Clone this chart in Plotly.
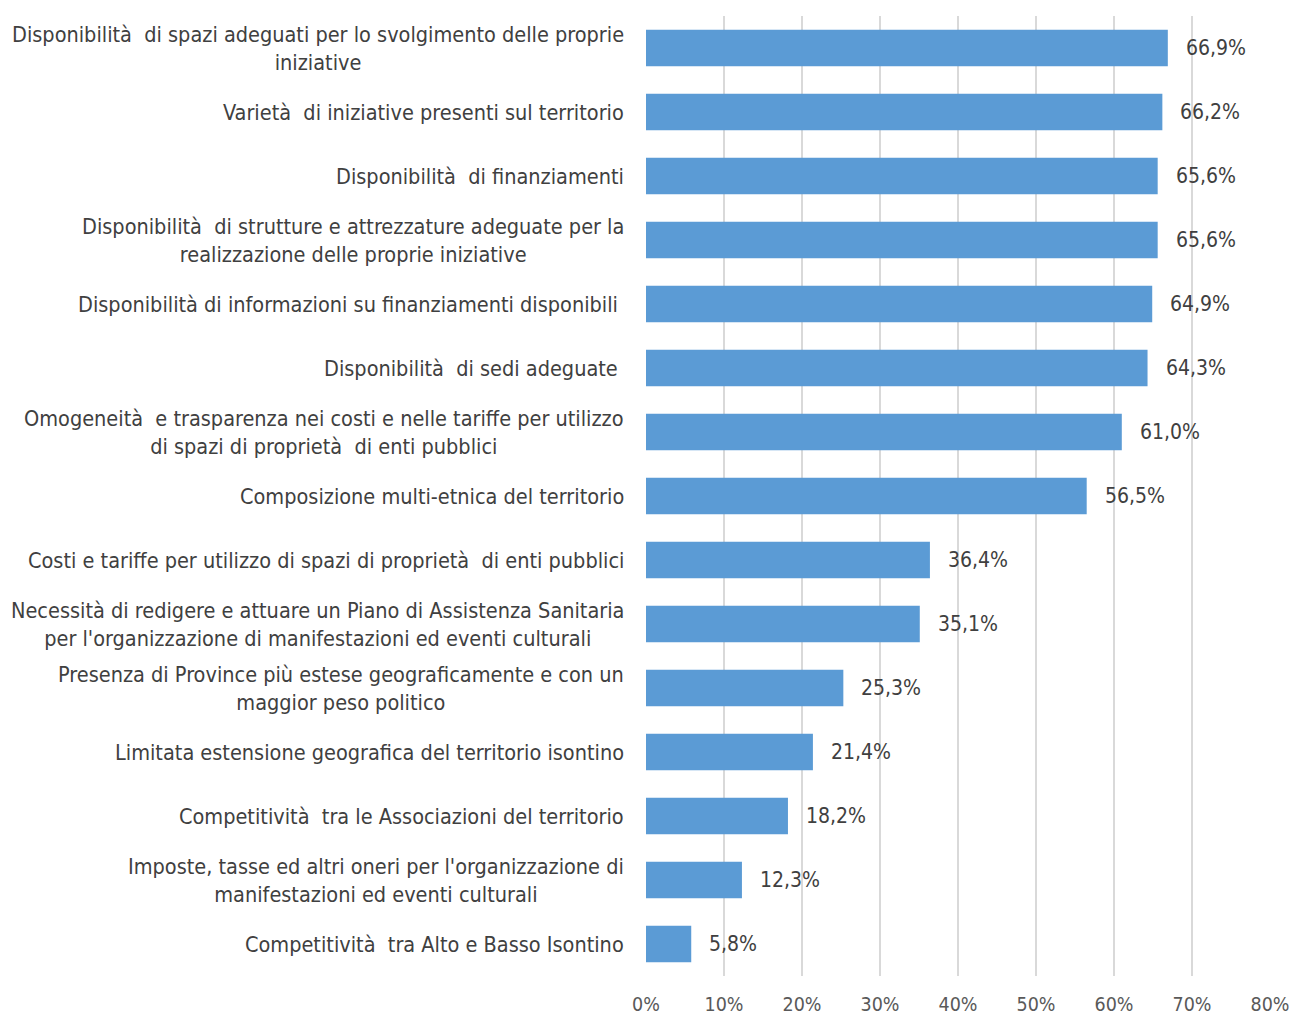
import plotly.graph_objects as go

categories = [
    "Disponibilità  di spazi adeguati per lo svolgimento delle proprie<br>iniziative",
    "Varietà  di iniziative presenti sul territorio",
    "Disponibilità  di finanziamenti",
    "Disponibilità  di strutture e attrezzature adeguate per la<br>realizzazione delle proprie iniziative",
    "Disponibilità di informazioni su finanziamenti disponibili ",
    "Disponibilità  di sedi adeguate ",
    "Omogeneità  e trasparenza nei costi e nelle tariffe per utilizzo<br>di spazi di proprietà  di enti pubblici",
    "Composizione multi-etnica del territorio",
    "Costi e tariffe per utilizzo di spazi di proprietà  di enti pubblici",
    "Necessità di redigere e attuare un Piano di Assistenza Sanitaria<br>per l'organizzazione di manifestazioni ed eventi culturali",
    "Presenza di Province più estese geograficamente e con un<br>maggior peso politico",
    "Limitata estensione geografica del territorio isontino",
    "Competitività  tra le Associazioni del territorio",
    "Imposte, tasse ed altri oneri per l'organizzazione di<br>manifestazioni ed eventi culturali",
    "Competitività  tra Alto e Basso Isontino",
]
values = [0.669, 0.662, 0.656, 0.656, 0.649, 0.643, 0.610, 0.565,
          0.364, 0.351, 0.253, 0.214, 0.182, 0.123, 0.058]
value_labels = ["66,9%", "66,2%", "65,6%", "65,6%", "64,9%", "64,3%", "61,0%", "56,5%",
                "36,4%", "35,1%", "25,3%", "21,4%", "18,2%", "12,3%", "5,8%"]
tick_vals = [0, 0.1, 0.2, 0.3, 0.4, 0.5, 0.6, 0.7, 0.8]
tick_text = ["0%", "10%", "20%", "30%", "40%", "50%", "60%", "70%", "80%"]

FONT = "Liberation Sans Narrow, DejaVu Sans Condensed, Arial Narrow, sans-serif"
ids = list(range(len(categories)))

fig = go.Figure()
fig.add_trace(go.Bar(
    x=values, y=ids, orientation="h",
    marker=dict(color="#5B9BD5", line=dict(width=0)),
    width=0.57,
    hoverinfo="skip",
))

annotations = []
for i, (c, v, t) in enumerate(zip(categories, values, value_labels)):
    annotations.append(dict(
        x=0, y=i, xref="paper", yref="y", text=c, showarrow=False,
        xanchor="right", yanchor="middle", align="center", xshift=-20,
        font=dict(family=FONT, size=21.5, color="#404040"),
    ))
    annotations.append(dict(
        x=v, y=i, xref="x", yref="y", text=t, showarrow=False,
        xanchor="left", yanchor="middle", xshift=16,
        font=dict(family=FONT, size=21, color="#404040"),
    ))

fig.update_layout(
    width=1292, height=1017,
    margin=dict(l=646, r=22, t=16, b=41, autoexpand=False),
    paper_bgcolor="white", plot_bgcolor="white",
    showlegend=False,
    bargap=0.43,
    annotations=annotations,
    xaxis=dict(
        range=[0, 0.8], tickvals=tick_vals, ticktext=tick_text,
        showgrid=True, gridcolor="#D9D9D9", gridwidth=2,
        zeroline=False, showline=False, ticks="",
        tickfont=dict(family=FONT, size=19.5, color="#595959"),
        ticklabelstandoff=14, automargin=False,
    ),
    yaxis=dict(
        range=[len(categories) - 0.5, -0.5], automargin=False,
        showticklabels=False, showgrid=False, zeroline=False, showline=False, ticks="",
    ),
)

fig.write_html(
    "out.html",
    config={"displayModeBar": False, "staticPlot": True},
    post_script="document.body.style.margin='0';document.body.style.overflow='hidden';",
)
